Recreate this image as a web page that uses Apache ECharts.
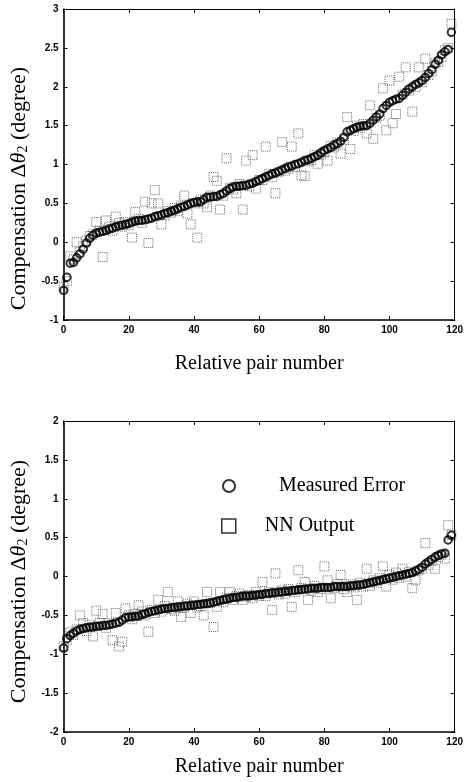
<!DOCTYPE html>
<html>
<head>
<meta charset="utf-8">
<script src="https://cdn.jsdelivr.net/npm/echarts@6/dist/echarts.min.js"></script>
<style>
html,body{margin:0;padding:0;background:#fff;}
#chart{width:466px;height:782px;}
</style>
</head>
<body>
<div id="chart"></div>
<script>
// ---- Data ----
const xTicks = [0, 20, 40, 60, 80, 100, 120];

// Top panel: measured error (sorted) and NN output, pair numbers 0..119
const measuredTop = [
 -0.62,-0.45,-0.27,-0.26,-0.20,-0.15,-0.09,-0.01,0.05,0.09,
 0.12,0.13,0.14,0.15,0.17,0.18,0.20,0.21,0.22,0.23,
 0.24,0.26,0.27,0.28,0.28,0.29,0.30,0.31,0.33,0.34,
 0.35,0.37,0.38,0.40,0.41,0.43,0.45,0.46,0.48,0.50,
 0.51,0.52,0.52,0.55,0.58,0.58,0.59,0.59,0.61,0.63,
 0.66,0.69,0.71,0.72,0.72,0.73,0.73,0.75,0.76,0.78,
 0.80,0.82,0.84,0.86,0.88,0.89,0.91,0.93,0.95,0.97,
 0.98,1.00,1.01,1.03,1.05,1.06,1.08,1.10,1.12,1.15,
 1.18,1.20,1.22,1.25,1.27,1.30,1.35,1.42,1.44,1.46,
 1.48,1.49,1.50,1.50,1.53,1.57,1.61,1.65,1.72,1.76,
 1.80,1.82,1.84,1.85,1.89,1.93,1.97,2.00,2.03,2.05,
 2.08,2.12,2.17,2.22,2.29,2.34,2.41,2.45,2.48,2.70
];
const nnTop = [
 -0.57,-0.50,-0.18,-0.22,0.00,-0.12,-0.05,0.02,0.08,0.10,
 0.26,0.15,-0.19,0.28,0.20,0.15,0.33,0.25,0.20,0.26,
 0.22,0.06,0.39,0.30,0.25,0.52,-0.01,0.50,0.67,0.50,
 0.23,0.35,0.40,0.38,0.44,0.40,0.47,0.60,0.37,0.23,
 0.50,0.06,0.55,0.50,0.45,0.60,0.84,0.79,0.42,0.60,
 1.08,0.70,0.68,0.63,0.75,0.42,1.05,0.72,1.12,0.69,
 0.80,0.80,1.23,0.88,0.84,0.63,0.90,1.29,0.92,0.95,
 1.23,0.97,1.40,0.86,0.85,1.04,1.06,1.12,1.01,1.13,
 1.16,1.05,1.24,1.22,1.28,1.14,1.32,1.61,1.20,1.43,
 1.50,1.47,1.52,1.40,1.76,1.33,1.60,1.63,1.98,1.44,
 2.08,1.53,1.65,2.13,1.90,2.25,1.95,1.68,2.00,2.25,
 2.06,2.36,2.15,2.20,2.30,2.32,2.38,2.47,2.50,2.81
];

// Bottom panel
const measuredBottom = [
 -0.92,-0.80,-0.76,-0.73,-0.70,-0.68,-0.67,-0.66,-0.65,-0.65,
 -0.64,-0.64,-0.63,-0.63,-0.62,-0.61,-0.60,-0.59,-0.56,-0.53,
 -0.52,-0.52,-0.51,-0.51,-0.49,-0.48,-0.46,-0.45,-0.44,-0.43,
 -0.42,-0.41,-0.41,-0.40,-0.40,-0.39,-0.39,-0.38,-0.38,-0.37,
 -0.37,-0.36,-0.36,-0.35,-0.35,-0.34,-0.33,-0.32,-0.31,-0.30,
 -0.29,-0.28,-0.27,-0.27,-0.26,-0.25,-0.25,-0.25,-0.24,-0.24,
 -0.23,-0.23,-0.22,-0.22,-0.21,-0.21,-0.20,-0.20,-0.19,-0.19,
 -0.18,-0.18,-0.17,-0.17,-0.16,-0.16,-0.15,-0.15,-0.15,-0.14,
 -0.14,-0.14,-0.14,-0.13,-0.13,-0.13,-0.13,-0.13,-0.12,-0.12,
 -0.11,-0.11,-0.10,-0.09,-0.08,-0.07,-0.06,-0.05,-0.04,-0.03,
 -0.02,-0.01,0.00,0.01,0.02,0.03,0.04,0.05,0.07,0.09,
 0.12,0.16,0.19,0.22,0.25,0.27,0.29,0.30,0.47,0.53
];
const nnBottom = [
 -0.90,-0.82,-0.72,-0.75,-0.68,-0.50,-0.60,-0.70,-0.62,-0.77,
 -0.44,-0.60,-0.48,-0.66,-0.60,-0.82,-0.47,-0.90,-0.84,-0.41,
 -0.50,-0.55,-0.48,-0.37,-0.45,-0.50,-0.71,-0.43,-0.47,-0.30,
 -0.45,-0.38,-0.20,-0.42,-0.44,-0.32,-0.52,-0.40,-0.35,-0.47,
 -0.32,-0.40,-0.38,-0.50,-0.20,-0.34,-0.65,-0.39,-0.20,-0.33,
 -0.28,-0.20,-0.30,-0.25,-0.22,-0.30,-0.26,-0.24,-0.28,-0.20,
 -0.25,-0.07,-0.25,-0.20,-0.43,0.04,-0.23,-0.18,-0.22,-0.16,
 -0.39,-0.20,0.08,-0.15,-0.07,-0.30,-0.18,-0.12,-0.20,-0.16,
 0.13,-0.05,-0.28,-0.15,-0.10,0.02,-0.16,-0.20,-0.10,-0.14,
 -0.30,-0.08,-0.13,0.10,-0.12,-0.05,-0.08,-0.02,0.13,-0.13,
 0.02,-0.04,0.05,-0.02,0.10,0.00,0.06,-0.15,-0.05,0.08,
 0.10,0.43,0.15,0.20,0.10,0.25,0.28,0.23,0.66,0.53
];

const yRangeTop = {min: -1, max: 3, interval: 0.5};
const yRangeBottom = {min: -2, max: 2, interval: 0.5};
const xRange = {min: 0, max: 120, interval: 20};

const seriesNames = {measured: 'Measured Error', nn: 'NN Output'};

// ---- Chart ----
const serif = 'Liberation Serif';
const sans = 'Liberation Sans';
const toPairs = arr => arr.map((v, i) => [i, v]);

function xAxes(gridIndex, nameGap) {
  return [
    {
      type: 'value', gridIndex, position: 'bottom',
      min: xRange.min, max: xRange.max, interval: xRange.interval,
      name: 'Relative pair number', nameLocation: 'middle', nameGap,
      nameTextStyle: {fontFamily: serif, fontSize: 20, color: '#000'},
      axisLine: {show: true, onZero: false, lineStyle: {color: '#000', width: 1.6}},
      axisTick: {show: true, inside: true, length: 4, lineStyle: {color: '#000'}},
      axisLabel: {show: true, margin: 5, color: '#000', fontFamily: sans, fontSize: 10, fontWeight: 'bold'},
      splitLine: {show: false}
    },
    {
      type: 'value', gridIndex, position: 'top',
      min: xRange.min, max: xRange.max, interval: xRange.interval,
      axisLine: {show: true, onZero: false, lineStyle: {color: '#000', width: 1}},
      axisTick: {show: true, inside: true, length: 4, lineStyle: {color: '#000'}},
      axisLabel: {show: false},
      splitLine: {show: false}
    }
  ];
}
function yAxes(gridIndex, r, shift) {
  return [
    {
      type: 'value', gridIndex, position: 'left',
      min: r.min, max: r.max, interval: r.interval,
      name: 'Compensation Δ{t|θ}{s|2} (degree)', nameLocation: 'middle', nameGap: 31,
      nameTextStyle: {
        fontFamily: serif, fontSize: 22, color: '#000',
        padding: [0, shift, 0, 0],
        rich: {
          t: {fontFamily: serif, fontSize: 22, fontStyle: 'italic', color: '#000'},
          s: {fontFamily: serif, fontSize: 14, color: '#000', padding: [9, 0, 0, 0]}
        }
      },
      axisLine: {show: true, onZero: false, lineStyle: {color: '#000', width: 1.6}},
      axisTick: {show: true, inside: true, length: 4, lineStyle: {color: '#000'}},
      axisLabel: {show: true, margin: 5, color: '#000', fontFamily: sans, fontSize: 10, fontWeight: 'bold'},
      splitLine: {show: false}
    },
    {
      type: 'value', gridIndex, position: 'right',
      min: r.min, max: r.max, interval: r.interval,
      axisLine: {show: true, onZero: false, lineStyle: {color: '#000', width: 1}},
      axisTick: {show: true, inside: true, length: 4, lineStyle: {color: '#000'}},
      axisLabel: {show: false},
      splitLine: {show: false}
    }
  ];
}

function scatterPair(xIdx, yIdx, measured, nn) {
  return [
    {
      name: seriesNames.nn, type: 'scatter', xAxisIndex: xIdx, yAxisIndex: yIdx,
      data: toPairs(nn), symbol: 'rect', symbolSize: 9, z: 2,
      itemStyle: {color: 'rgba(255,255,255,0)', borderColor: '#444', borderWidth: 1, borderType: 'dotted'},
      emphasis: {disabled: true}, silent: true
    },
    {
      name: seriesNames.measured, type: 'scatter', xAxisIndex: xIdx, yAxisIndex: yIdx,
      data: toPairs(measured), symbol: 'circle', symbolSize: 7.5, z: 3,
      itemStyle: {color: 'rgba(255,255,255,0)', borderColor: '#000', borderWidth: 2},
      emphasis: {disabled: true}, silent: true
    }
  ];
}

const chart = echarts.init(document.getElementById('chart'), null, {renderer: 'canvas'});
chart.setOption({
  animation: false,
  backgroundColor: '#fff',
  grid: [
    {left: 62, top: 9, width: 396, height: 311},
    {left: 62, top: 421, width: 396, height: 311}
  ],
  xAxis: [...xAxes(0, 34), ...xAxes(1, 25)],
  yAxis: [...yAxes(0, yRangeTop, 48), ...yAxes(1, yRangeBottom, 10)],
  legend: [
    {
      left: 217, top: 471, orient: 'vertical', itemWidth: 12, itemHeight: 15,
      selectedMode: false,
      data: [{name: seriesNames.measured, icon: 'circle',
              itemStyle: {color: 'rgba(255,255,255,0)', borderColor: '#000', borderWidth: 2}}],
      textStyle: {fontFamily: serif, fontSize: 20, color: '#000', padding: [0, 0, 0, 39]}
    },
    {
      left: 216, top: 511, orient: 'vertical', itemWidth: 14, itemHeight: 14,
      selectedMode: false,
      data: [{name: seriesNames.nn, icon: 'rect',
              itemStyle: {color: 'rgba(255,255,255,0)', borderColor: '#000', borderWidth: 1.5}}],
      textStyle: {fontFamily: serif, fontSize: 20, color: '#000', padding: [0, 0, 0, 24]}
    }
  ],
  series: [
    ...scatterPair(0, 0, measuredTop, nnTop),
    ...scatterPair(2, 2, measuredBottom, nnBottom)
  ]
});
</script>
</body>
</html>
